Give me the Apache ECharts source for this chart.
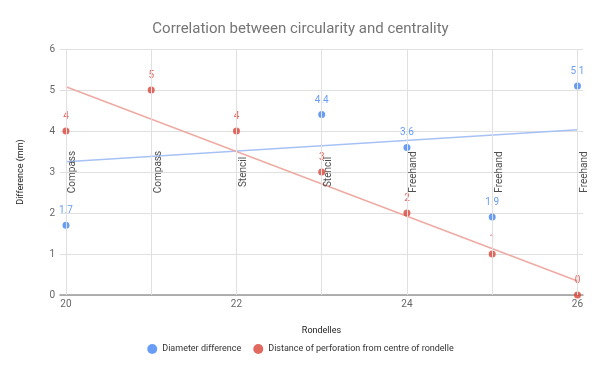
<!DOCTYPE html>
<html>
<head>
<meta charset="utf-8">
<script src="https://cdn.jsdelivr.net/npm/echarts@6/dist/echarts.min.js"></script>
<style>html,body{margin:0;padding:0;background:#fff;}#c{width:601px;height:371px;}</style>
</head>
<body>
<div id="c"></div>
<script>
// Data
const rondelles = [20, 21, 22, 23, 24, 25, 26];
const methodLabels = ['Compass', 'Compass', 'Stencil', 'Stencil', 'Freehand', 'Freehand', 'Freehand'];
const diameterX = [20, 23, 24, 25, 26];
const diameterY = [1.7, 4.4, 3.6, 1.9, 5.1];
const distanceX = [20, 21, 22, 23, 24, 25, 26];
const distanceY = [4, 5, 4, 3, 2, 1, 0];
const diameterTrend = [[20, 3.25], [26, 4.03]];
const distanceTrend = [[20, 5.08], [26, 0.34]];
const xTickLabels = [20, 22, 24, 26];
const seriesNames = ['Diameter difference', 'Distance of perforation from centre of rondelle'];

const BLUE = '#4285f4', RED = '#db4437';
const FONT = 'Roboto, Arial, sans-serif';
const ANNOT_Y = 3;

const chart = echarts.init(document.getElementById('c'), null, {renderer: 'canvas'});
chart.setOption({
  animation: false,
  backgroundColor: '#fff',
  title: {
    text: 'Correlation between circularity and centrality',
    left: 'center', top: 17,
    textStyle: {fontFamily: FONT, fontSize: 15, fontWeight: 'normal', color: '#757575'}
  },
  legend: {
    bottom: 12, left: 'center',
    icon: 'circle', itemWidth: 10, itemHeight: 10, itemGap: 12,
    data: seriesNames,
    textStyle: {fontFamily: FONT, fontSize: 9, color: '#333'}
  },
  grid: {left: 60, right: 18, top: 49, height: 246, containLabel: false},
  xAxis: {
    type: 'value', min: 19.93, max: 26.065,
    name: 'Rondelles', nameLocation: 'middle', nameGap: 31,
    nameTextStyle: {fontFamily: FONT, fontSize: 9, color: '#222'},
    axisLine: {show: true, lineStyle: {color: '#999', width: 1.5}},
    axisTick: {show: false},
    splitLine: {show: false},
    axisLabel: {customValues: xTickLabels, fontFamily: FONT, fontSize: 10, color: '#666', margin: 4}
  },
  yAxis: {
    type: 'value', min: 0, max: 6, interval: 1,
    name: 'Difference (mm)', nameLocation: 'middle', nameGap: 35, nameRotate: 90,
    nameTextStyle: {fontFamily: FONT, fontSize: 9, color: '#222'},
    axisLine: {show: false}, axisTick: {show: false},
    splitLine: {lineStyle: {color: '#e0e0e0', width: 1}},
    axisLabel: {fontFamily: FONT, fontSize: 10, color: '#666', margin: 5}
  },
  series: [
    {
      name: 'grid', type: 'line', data: [], z: 0, silent: true,
      markLine: {
        silent: true, symbol: 'none', label: {show: false},
        lineStyle: {color: '#e0e0e0', width: 1, type: 'solid'},
        data: rondelles.map(x => ({xAxis: x}))
      }
    },
    {
      name: 'trendBlue', type: 'line', data: diameterTrend, symbol: 'none', z: 1, silent: true,
      lineStyle: {color: '#a6c2f5', width: 1.5}
    },
    {
      name: 'trendRed', type: 'line', data: distanceTrend, symbol: 'none', z: 1, silent: true,
      lineStyle: {color: '#eeaaa3', width: 1.5}
    },
    {
      name: 'annotations', type: 'scatter', symbolSize: 0, z: 3, silent: true,
      data: rondelles.map((x, i) => [x, ANNOT_Y, methodLabels[i]]),
      label: {
        show: true, formatter: p => p.value[2], rotate: 90,
        position: 'inside', offset: [0, 7], align: 'center', verticalAlign: 'middle',
        fontFamily: FONT, fontSize: 10, color: '#222'
      }
    },
    {
      name: seriesNames[0], type: 'scatter', symbol: 'circle', symbolSize: 7, z: 4,
      itemStyle: {color: BLUE},
      labelLayout: {hideOverlap: false},
      data: diameterX.map((x, i) => [x, diameterY[i]]),
      label: {show: true, position: 'top', distance: 6, formatter: p => String(p.value[1]),
        fontFamily: FONT, fontSize: 10, color: BLUE}
    },
    {
      name: seriesNames[1], type: 'scatter', symbol: 'circle', symbolSize: 7, z: 4,
      itemStyle: {color: RED},
      labelLayout: {hideOverlap: false},
      data: distanceX.map((x, i) => [x, distanceY[i]]),
      label: {show: true, position: 'top', distance: 6, formatter: p => String(p.value[1]),
        fontFamily: FONT, fontSize: 10, color: RED}
    }
  ]
});
</script>
</body>
</html>
